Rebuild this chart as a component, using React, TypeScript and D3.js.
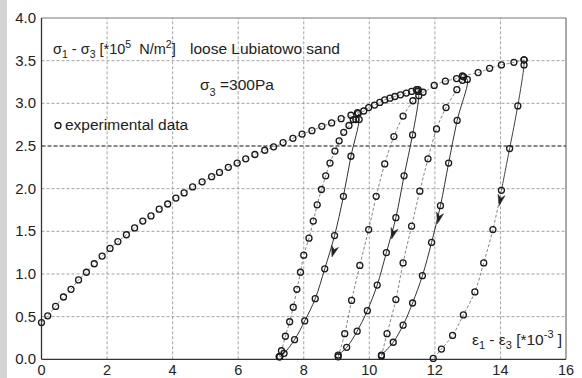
import React from 'react';
import * as d3 from 'd3';

const xTicks = [0, 2, 4, 6, 8, 10, 12, 14, 16];
const yTicks = [0, 0.5, 1, 1.5, 2, 2.5, 3, 3.5, 4];

// main loading envelope
const envX = [0.00, 0.19, 0.43, 0.67, 0.90, 1.13, 1.37, 1.61, 1.85, 2.09, 2.33, 2.59, 2.84, 3.09, 3.34, 3.59, 3.85, 4.10, 4.35, 4.61, 4.90, 5.19, 5.43, 5.70, 5.97, 6.23, 6.51, 6.81, 7.08, 7.37, 7.67, 7.95, 8.25, 8.55, 8.85, 9.14, 9.44, 9.64, 9.83, 9.98, 10.16, 10.32, 10.47, 10.63, 10.78, 10.95, 11.13, 11.29, 11.44, 11.64, 11.98, 12.32, 12.66, 12.84, 13.32, 13.67, 14.03, 14.41, 14.72];
const envY = [0.43, 0.51, 0.62, 0.73, 0.82, 0.93, 1.02, 1.12, 1.21, 1.30, 1.38, 1.46, 1.54, 1.62, 1.68, 1.76, 1.82, 1.89, 1.95, 2.02, 2.08, 2.14, 2.19, 2.25, 2.30, 2.35, 2.40, 2.45, 2.49, 2.54, 2.59, 2.64, 2.68, 2.73, 2.77, 2.82, 2.86, 2.89, 2.91, 2.95, 2.98, 3.01, 3.04, 3.06, 3.08, 3.10, 3.12, 3.14, 3.16, 3.13, 3.21, 3.26, 3.29, 3.32, 3.36, 3.41, 3.45, 3.48, 3.51];

// unloading branches
const unload1X = [9.66, 9.69, 9.44, 9.21, 8.94, 8.64, 8.35, 8.03, 7.72, 7.40, 7.27];
const unload1Y = [2.88, 2.81, 2.38, 1.91, 1.45, 1.06, 0.71, 0.45, 0.23, 0.07, 0.03];
const unload2X = [11.49, 11.51, 11.32, 11.06, 10.81, 10.52, 10.24, 9.94, 9.63, 9.31, 9.05];
const unload2Y = [3.16, 3.09, 2.63, 2.15, 1.66, 1.25, 0.87, 0.57, 0.33, 0.14, 0.05];
const unload3X = [12.88, 12.99, 12.68, 12.42, 12.17, 11.90, 11.62, 11.32, 11.03, 10.73, 10.37];
const unload3Y = [3.31, 3.28, 2.80, 2.30, 1.80, 1.37, 0.98, 0.66, 0.40, 0.20, 0.05];
const unload4X = [14.72, 14.72, 14.53, 14.28, 14.03, 13.77, 13.49, 13.22, 12.87, 12.54, 12.20, 11.95];
const unload4Y = [3.51, 3.45, 2.97, 2.47, 1.98, 1.52, 1.13, 0.79, 0.52, 0.28, 0.12, 0.01];

// reloading branches
const reload1X = [7.25, 7.32, 7.44, 7.57, 7.68, 7.79, 7.90, 8.00, 8.16, 8.29, 8.41, 8.54, 8.67, 8.80, 8.95, 9.08, 9.22, 9.38, 9.51, 9.59];
const reload1Y = [0.03, 0.10, 0.27, 0.44, 0.61, 0.82, 1.02, 1.22, 1.42, 1.62, 1.81, 1.99, 2.15, 2.30, 2.44, 2.56, 2.66, 2.74, 2.81, 2.81];
const reload2X = [9.05, 9.25, 9.46, 9.71, 9.98, 10.21, 10.47, 10.75, 11.03, 11.33, 11.49];
const reload2Y = [0.03, 0.30, 0.69, 1.10, 1.52, 1.91, 2.29, 2.61, 2.85, 3.03, 3.14];
const reload3X = [10.37, 10.54, 10.81, 11.03, 11.29, 11.54, 11.79, 12.05, 12.34, 12.67, 12.84];
const reload3Y = [0.04, 0.30, 0.70, 1.13, 1.56, 1.97, 2.35, 2.70, 2.95, 3.16, 3.27];

// arrow tips on unloading branches
const arrowX = [8.86, 10.68, 12.08, 13.96];
const arrowY = [1.20, 1.41, 1.59, 1.80];

const W = 582, H = 378;
const FONT = "'Liberation Sans', Arial, Helvetica, sans-serif";

export default function App() {
  const x = d3.scaleLinear().domain([0, 16]).range([41.5, 566]);
  const y = d3.scaleLinear().domain([0, 4]).range([359.3, 18]);
  const pts = (xs: number[], ys: number[]) => xs.map((v, i) => [x(v), y(ys[i])] as [number, number]);
  const line = d3.line<[number, number]>().curve(d3.curveCatmullRom.alpha(0.5));

  const env = pts(envX, envY);
  const unloads = [pts(unload1X, unload1Y), pts(unload2X, unload2Y), pts(unload3X, unload3Y), pts(unload4X, unload4Y)];
  const reloads = [pts(reload1X, reload1Y), pts(reload2X, reload2Y), pts(reload3X, reload3Y)];
  const u4 = unloads[3];
  const u4solid = u4.slice(0, 5);
  const u4dash = u4.slice(4);

  const arrows = arrowX.map((ax, i) => {
    const tip: [number, number] = [x(ax), y(arrowY[i])];
    const ln = unloads[i];
    let dir: [number, number] = [0, 1];
    for (let k = 0; k < ln.length - 1; k++) {
      const a = ln[k], b = ln[k + 1];
      if (tip[1] >= a[1] && tip[1] <= b[1]) {
        const dx = b[0] - a[0], dy = b[1] - a[1];
        const L = Math.hypot(dx, dy);
        dir = [dx / L, dy / L];
        break;
      }
    }
    const len = 11, hw = 3.6;
    const bx = tip[0] - dir[0] * len, by = tip[1] - dir[1] * len;
    const nx = -dir[1], ny = dir[0];
    return `M${tip[0]},${tip[1]}L${bx + nx * hw},${by + ny * hw}L${tip[0] - dir[0] * len * 0.7},${tip[1] - dir[1] * len * 0.7}L${bx - nx * hw},${by - ny * hw}Z`;
  });

  const allPts = [env, ...unloads, ...reloads].flat();

  return (
    <svg width={W} height={H} style={{ position: 'absolute', left: 0, top: 0, display: 'block', background: '#fff' }} fontFamily={FONT}>
      <rect x={0} y={0} width={7} height={H} fill="#d3d3d3" />
      {/* grid */}
      {xTicks.slice(1, -1).map(t => (
        <line key={'gx' + t} x1={x(t)} x2={x(t)} y1={y(0)} y2={y(4)} stroke="#8c8c8c" strokeWidth={0.8} strokeDasharray="3,2" />
      ))}
      {yTicks.slice(1, -1).filter(t => t !== 2.5).map(t => (
        <line key={'gy' + t} x1={x(0)} x2={x(16)} y1={y(t)} y2={y(t)} stroke="#8c8c8c" strokeWidth={0.8} strokeDasharray="3,2" />
      ))}
      <line x1={x(0)} x2={x(16)} y1={y(2.5)} y2={y(2.5)} stroke="#111" strokeWidth={1.1} strokeDasharray="4,2" />
      {/* frame */}
      <line x1={x(0)} x2={x(16)} y1={y(4)} y2={y(4)} stroke="#777" strokeWidth={1} />
      <line x1={x(16)} x2={x(16)} y1={y(4)} y2={y(0)} stroke="#555" strokeWidth={1} />
      <line x1={x(0)} x2={x(0)} y1={y(4)} y2={y(0)} stroke="#333" strokeWidth={1.3} />
      <line x1={x(0)} x2={x(16)} y1={y(0)} y2={y(0)} stroke="#333" strokeWidth={1.3} />
      {/* tick labels */}
      {xTicks.map(t => (
        <text key={'tx' + t} x={x(t)} y={374.5} fontSize={14.5} textAnchor="middle" fill="#222">{t}</text>
      ))}
      {yTicks.map(t => (
        <text key={'ty' + t} x={36} y={y(t) + 5} fontSize={15} textAnchor="end" fill="#222">{t.toFixed(1)}</text>
      ))}
      {/* lines */}
      <path d={line(env) || ''} fill="none" stroke="#777" strokeWidth={0.8} strokeDasharray="3,2" />
      {reloads.map((r, i) => (
        <path key={'rl' + i} d={line(r) || ''} fill="none" stroke="#666" strokeWidth={0.8} strokeDasharray="3,2" />
      ))}
      {unloads.slice(0, 3).map((u, i) => (
        <path key={'ul' + i} d={line(u) || ''} fill="none" stroke="#333" strokeWidth={1} />
      ))}
      <path d={line(u4solid) || ''} fill="none" stroke="#444" strokeWidth={1} />
      <path d={line(u4dash) || ''} fill="none" stroke="#666" strokeWidth={0.8} strokeDasharray="3,2" />
      {arrows.map((d, i) => <path key={'ar' + i} d={d} fill="#222" stroke="#222" strokeWidth={0.5} />)}
      {/* markers */}
      {allPts.map((p, i) => (
        <circle key={'c' + i} cx={p[0]} cy={p[1]} r={3} fill="none" stroke="#1a1a1a" strokeWidth={1.3} />
      ))}
      {/* annotations */}
      <text x={53} y={54} fontSize={14.5} fill="#222">
        <tspan>σ</tspan><tspan dy={4} fontSize={10.5}>1</tspan><tspan dy={-4}>{' - σ'}</tspan><tspan dy={4} fontSize={10.5}>3</tspan><tspan dy={-4}>{' [*10'}</tspan><tspan dy={-6} fontSize={10.5}>5</tspan><tspan dy={6}>{'\u00A0 N/m'}</tspan><tspan dy={-6} fontSize={10.5}>2</tspan><tspan dy={6}>]</tspan>
      </text>
      <text x={190} y={54} fontSize={15.5} fill="#222">loose Lubiatowo sand</text>
      <text x={200} y={90} fontSize={15.5} fill="#222">
        <tspan>σ</tspan><tspan dy={6} fontSize={11}>3</tspan><tspan dy={-6}>{' =300Pa'}</tspan>
      </text>
      <circle cx={58} cy={125.5} r={3} fill="none" stroke="#1a1a1a" strokeWidth={1.3} />
      <text x={65} y={130} fontSize={15.5} fill="#222">experimental data</text>
      <text x={472} y={345} fontSize={15.5} fill="#222">
        <tspan>ε</tspan><tspan dy={4} fontSize={11}>1</tspan><tspan dy={-4}>{' - ε'}</tspan><tspan dy={4} fontSize={11}>3</tspan><tspan dy={-4}>{' [*10'}</tspan><tspan dy={-7} fontSize={11}>-3</tspan><tspan dy={7}>{' ]'}</tspan>
      </text>
    </svg>
  );
}
